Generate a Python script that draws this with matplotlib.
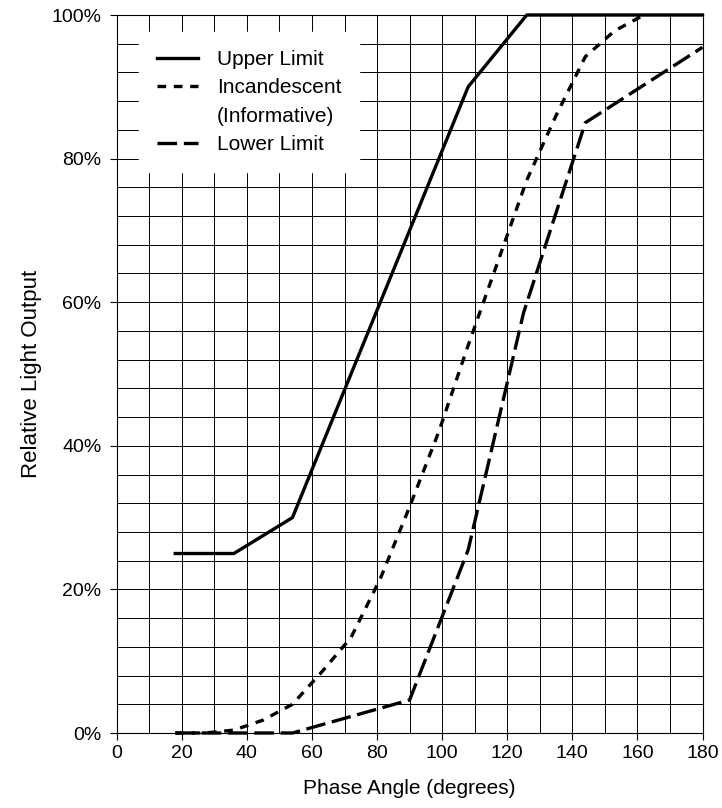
# Relative light output vs phase angle (upper / lower limit + incandescent)
import matplotlib.pyplot as plt
from matplotlib.lines import Line2D
from matplotlib.ticker import MultipleLocator

plt.rcParams['font.family'] = ['Liberation Sans', 'DejaVu Sans']

# --- data ---
upper_x = [18, 36, 54, 108, 126, 180]
upper_y = [25, 25, 30, 90, 100, 100]

incand_x = [18, 27, 36, 45, 54, 63, 72, 81, 90, 99, 108, 117, 126, 135, 144, 153, 162]
incand_y = [0, 0, 0.4, 1.8, 4, 8.5, 13.3, 21.5, 31.5, 42, 54, 65.5, 77, 86, 94.2, 97.8, 100]

lower_x = [18, 54, 90, 108, 125, 144, 180]
lower_y = [0, 0, 4.6, 25.5, 58.5, 85, 95.5]

x_ticks = [0, 20, 40, 60, 80, 100, 120, 140, 160, 180]
y_ticks = [0, 20, 40, 60, 80, 100]
y_tick_labels = ['0%', '20%', '40%', '60%', '80%', '100%']

LW = 2.4

fig = plt.figure(figsize=(7.22, 8.08), dpi=100)
ax = fig.add_axes([116.7 / 722, 75 / 808, 585.8 / 722, 718 / 808])

ax.plot(upper_x, upper_y, color='black', lw=LW, clip_on=False, zorder=3)
ax.plot(incand_x, incand_y, color='black', lw=LW, dashes=(2.6, 2.3),
        clip_on=False, zorder=3)
ax.plot(lower_x, lower_y, color='black', lw=LW, dashes=(5.9, 2.0),
        clip_on=False, zorder=3)

ax.set_xlim(0, 180)
ax.set_ylim(0, 100)
ax.set_xticks(x_ticks)
ax.set_yticks(y_ticks)
ax.set_yticklabels(y_tick_labels)
ax.xaxis.set_minor_locator(MultipleLocator(10))
ax.yaxis.set_minor_locator(MultipleLocator(4))
ax.grid(which='both', color='black', lw=0.7)
ax.set_axisbelow(True)
ax.tick_params(which='major', direction='out', length=5, width=0.8,
               labelsize=14)
ax.tick_params(axis='x', which='major', pad=4)
ax.tick_params(axis='y', which='major', pad=6)
ax.tick_params(which='minor', length=0)
for sp in ax.spines.values():
    sp.set_linewidth(0.8)

ax.set_xlabel('Phase Angle (degrees)', fontsize=15, labelpad=12)
ax.set_ylabel('Relative Light Output', fontsize=16, labelpad=7)

# legend: the "(Informative)" line is its own entry with an empty handle
handles = [
    Line2D([], [], color='black', lw=LW),
    Line2D([], [], color='black', lw=LW, dashes=(2.6, 2.3)),
    Line2D([], [], color='none', lw=0),
    Line2D([], [], color='black', lw=LW, dashes=(5.9, 2.0)),
]
labels = ['Upper Limit', 'Incandescent', '(Informative)', 'Lower Limit']
leg = ax.legend(handles, labels, loc='upper left',
                bbox_to_anchor=(0.038, 0.976), fontsize=15,
                frameon=True, fancybox=False, framealpha=1,
                edgecolor='white', facecolor='white',
                handlelength=2.0, handletextpad=0.9, labelspacing=0.45,
                borderpad=0.85, borderaxespad=0)
leg.set_zorder(5)

fig.savefig('out.png', dpi=100)
